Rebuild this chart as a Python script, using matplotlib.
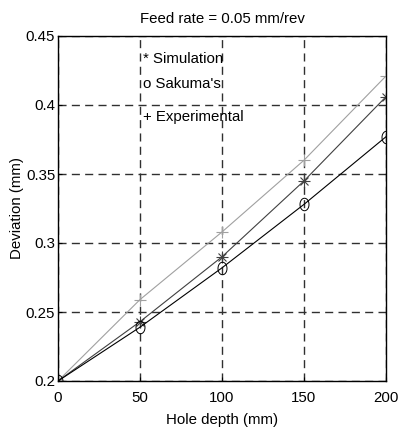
import matplotlib
matplotlib.use("Agg")
import matplotlib.pyplot as plt
from matplotlib.path import Path
import numpy as np

depth = [0, 50, 100, 150, 200]
simulation = [0.2, 0.243, 0.290, 0.345, 0.406]
sakuma = [0.2, 0.239, 0.282, 0.328, 0.377]
experimental = [0.2, 0.259, 0.308, 0.360, 0.421]

t = np.linspace(0, 2 * np.pi, 60)
ellipse = Path(np.column_stack([0.72 * np.cos(t), np.sin(t)]))

plt.rcParams['font.family'] = ['Liberation Sans', 'DejaVu Sans']
fs = 10.8
fig = plt.figure(figsize=(3.99, 4.32), dpi=100)
ax = fig.add_axes([58/399, 1-381/432, (386-58)/399, (381-36)/432])

ax.plot(depth, experimental, color='#a0a0a0', lw=0.8, marker='+', ms=8, mew=0.8)
ax.plot(depth, simulation, color='#404040', lw=0.8, marker='x', ms=6, mew=0.8)
ax.plot(depth, simulation, color='#404040', lw=0, marker='+', ms=8.5, mew=0.8)
ax.plot(depth, sakuma, color='black', lw=0.8, marker=ellipse, ms=9, mfc='none', mew=0.7)

ax.set_xlim(0, 200)
ax.set_ylim(0.2, 0.45)
ax.set_xticks([0, 50, 100, 150, 200])
ax.set_yticks([0.2, 0.25, 0.3, 0.35, 0.4, 0.45])
ax.set_yticklabels(['0.2', '0.25', '0.3', '0.35', '0.4', '0.45'])
ax.grid(True, color='#303030', linestyle=(0, (5.8, 3.8)), lw=1.0)
ax.tick_params(direction='in', length=3, labelsize=fs)
ax.tick_params(axis='x', pad=7)
ax.tick_params(axis='y', pad=2)
for s in ax.spines.values():
    s.set_linewidth(1.0)

ax.set_xlabel('Hole depth (mm)', fontsize=fs, labelpad=6)
ax.set_ylabel('Deviation (mm)', fontsize=fs, labelpad=1)
ax.set_title('Feed rate = 0.05 mm/rev', fontsize=fs, pad=9)

ax.text(52, 0.4333, '* Simulation', fontsize=fs, va='center', ha='left')
ax.text(52, 0.4152, 'o Sakuma\'s', fontsize=fs, va='center', ha='left')
ax.text(52, 0.3913, '+ Experimental', fontsize=fs, va='center', ha='left')

fig.savefig('out.png', dpi=100)
